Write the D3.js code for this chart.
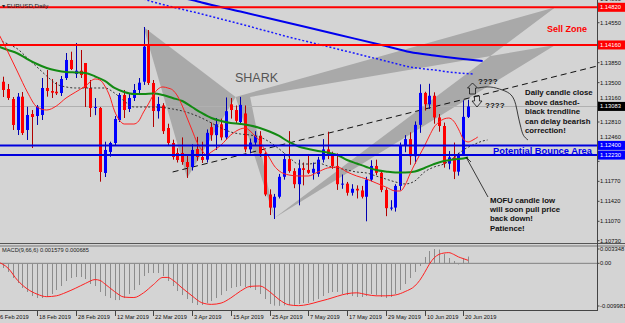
<!DOCTYPE html>
<html><head><meta charset="utf-8">
<script src="https://cdn.jsdelivr.net/npm/d3@7"></script>
<style>
html,body{margin:0;padding:0;background:#d4d4d4;overflow:hidden}
svg{display:block;font-family:"Liberation Sans",Arial,sans-serif}
</style></head><body>
<svg id="c" width="625" height="323"></svg>
<script>
// ---------- DATA (EURUSD Daily, 6 Feb 2019 .. 21 Jun 2019) ----------
const opens  = [1.14130,1.13516,1.13388,1.13213,1.12670,1.13254,1.12670,1.12950,1.12915,1.12933,
1.13406,1.13353,1.13341,1.13318,1.13581,1.13897,1.13651,1.13709,1.13844,1.13406,
1.13063,1.13056,1.11917,1.12285,1.12442,1.12845,1.13283,1.13038,1.13231,1.13371,
1.13516,1.14142,1.13494,1.13000,1.13100,1.12705,1.12442,1.12267,1.12267,1.12109,
1.12022,1.12337,1.12197,1.12150,1.12720,1.12580,1.12770,1.12540,1.13120,1.13020,
1.12810,1.12960,1.12330,1.12450,1.12570,1.12260,1.11540,1.11310,1.11500,1.11850,
1.12160,1.11950,1.11720,1.12000,1.11970,1.11920,1.11900,1.12150,1.12330,1.12250,
1.12040,1.11720,1.11730,1.11570,1.11640,1.11610,1.11500,1.11800,1.12040,1.11920,
1.11620,1.11300,1.11310,1.11690,1.12400,1.12510,1.12210,1.12760,1.13320,1.13120,
1.13270,1.12890,1.12740,1.12080,1.12190,1.11940,1.12250,1.12900];
const highs  = [1.14247,1.13604,1.13476,1.13248,1.13318,1.13336,1.13078,1.13020,1.13108,1.13581,
1.13721,1.13564,1.13511,1.13616,1.14019,1.14042,1.14195,1.14072,1.13844,1.13546,
1.13230,1.13073,1.12465,1.12465,1.12915,1.13318,1.13371,1.13318,1.13476,1.13581,
1.14475,1.14422,1.13546,1.13250,1.13140,1.12780,1.12500,1.12350,1.12540,1.12230,
1.12420,1.12550,1.12465,1.12680,1.12800,1.12880,1.12870,1.13240,1.13230,1.13100,
1.13250,1.13100,1.12520,1.12650,1.12650,1.12280,1.11630,1.11550,1.11900,1.12260,
1.12650,1.12000,1.12150,1.12100,1.12250,1.12100,1.12200,1.12510,1.12640,1.12290,
1.12260,1.11890,1.11760,1.11720,1.11700,1.11690,1.11850,1.12140,1.12150,1.11960,
1.11650,1.11440,1.11720,1.12450,1.12580,1.12630,1.12820,1.13470,1.13340,1.13480,
1.13330,1.12950,1.12800,1.12300,1.12450,1.12270,1.13190,1.13200];
const lows   = [1.13581,1.13248,1.13196,1.12670,1.12582,1.12582,1.12495,1.12355,1.12758,1.12845,
1.13254,1.13231,1.13283,1.13266,1.13546,1.13721,1.13581,1.13581,1.13073,1.12898,
1.12930,1.11764,1.11846,1.12202,1.12407,1.12810,1.12880,1.12985,1.13178,1.13283,
1.13459,1.13459,1.12723,1.12870,1.12600,1.12400,1.12150,1.12100,1.12060,1.11830,
1.11960,1.12130,1.12092,1.12100,1.12480,1.12320,1.12490,1.12500,1.12870,1.12780,
1.12790,1.12280,1.12260,1.12400,1.12200,1.11510,1.11180,1.11110,1.11470,1.11800,
1.11920,1.11650,1.11350,1.11700,1.11900,1.11800,1.11850,1.12100,1.12160,1.11990,
1.11620,1.11640,1.11520,1.11520,1.11470,1.11470,1.11070,1.11770,1.11880,1.11580,
1.11160,1.11260,1.11240,1.11610,1.12280,1.12060,1.12080,1.12620,1.13010,1.13040,
1.12780,1.12640,1.12010,1.11980,1.11810,1.11870,1.12250,1.12880];
const closes = [1.13634,1.13371,1.13231,1.12758,1.13254,1.12617,1.12933,1.12898,1.13078,1.13406,
1.13353,1.13324,1.13313,1.13564,1.13897,1.13739,1.13709,1.13634,1.13406,1.13056,
1.13073,1.11934,1.12320,1.12442,1.12863,1.13283,1.13020,1.13231,1.13371,1.13499,
1.14130,1.13494,1.13003,1.13126,1.12650,1.12442,1.12197,1.12144,1.12109,1.12022,
1.12320,1.12197,1.12144,1.12620,1.12580,1.12770,1.12540,1.13000,1.13020,1.12830,
1.13110,1.12330,1.12450,1.12570,1.12260,1.11540,1.11310,1.11500,1.11850,1.12160,
1.11950,1.11720,1.12000,1.11970,1.11920,1.11990,1.12150,1.12330,1.12250,1.12040,
1.11720,1.11730,1.11570,1.11640,1.11610,1.11500,1.11800,1.12040,1.11920,1.11620,
1.11300,1.11310,1.11690,1.12400,1.12510,1.12210,1.12760,1.13320,1.13120,1.13270,
1.12890,1.12740,1.12080,1.12190,1.11940,1.12250,1.12900,1.13083];

// moving averages: [bar index, price]
const redMA = [[0,1.14370],[2,1.14037],[4,1.13686],[6,1.13336],[8,1.13073],[10,1.13020],[12,1.13091],[14,1.13231],
[16,1.13336],[18,1.13441],[20,1.13564],[21,1.13546],[22,1.13441],[23,1.13266],[24,1.13003],[25,1.12845],[26,1.12775],
[28,1.12775],[29,1.12828],[30,1.12985],[31,1.13126],[32,1.13283],[33,1.13389],[34,1.13424],[35,1.13406],[36,1.13371],
[37,1.13266],[38,1.13091],[39,1.12880],[40,1.12670],[41,1.12460],[42,1.12320],[43,1.12232],[44,1.12285],[46,1.12407],
[48,1.12582],[50,1.12688],[51,1.12705],[52,1.12652],[53,1.12565],[54,1.12477],[55,1.12320],[56,1.12180],[57,1.12039],
[58,1.11952],[60,1.11882],[62,1.11864],[64,1.11864],[66,1.11934],[68,1.12004],[70,1.12022],[72,1.11934],[74,1.11864],
[76,1.11811],[78,1.11741],[80,1.11671],[82,1.11601],[83,1.11601],[84,1.11706],[85,1.11899],[86,1.12074],[87,1.12232],
[88,1.12390],[89,1.12565],[90,1.12723],[91,1.12810],[92,1.12863],[93,1.12880],[94,1.12828],[95,1.12688],[96,1.12512],
[97,1.12460],[98,1.12495],[99,1.12547]];
const greenMA = [[0,1.14133],[2,1.14072],[4,1.14011],[6,1.13914],[8,1.13827],[10,1.13756],[12,1.13713],[14,1.13686],
[16,1.13678],[18,1.13669],[20,1.13608],[22,1.13529],[24,1.13406],[26,1.13336],[28,1.13301],[30,1.13301],[32,1.13310],
[34,1.13283],[36,1.13231],[38,1.13178],[40,1.13073],[42,1.12968],[44,1.12880],[46,1.12828],[48,1.12793],[50,1.12775],
[52,1.12749],[54,1.12705],[56,1.12644],[58,1.12565],[60,1.12460],[62,1.12381],[64,1.12337],[66,1.12302],[68,1.12276],
[70,1.12232],[72,1.12144],[74,1.12083],[76,1.12022],[78,1.11969],[80,1.11943],[82,1.11925],[84,1.11925],[86,1.11943],
[88,1.12004],[90,1.12074],[92,1.12127],[94,1.12153],[96,1.12171],[97,1.12188]];
const dottedMA = [[0,1.14247],[2,1.14177],[4,1.14089],[6,1.13932],[8,1.13774],[10,1.13616],[12,1.13476],[14,1.13424],
[16,1.13406],[18,1.13406],[20,1.13406],[22,1.13406],[24,1.13318],[26,1.13178],[28,1.13073],[30,1.13073],[32,1.13073],
[34,1.13064],[36,1.13038],[38,1.13003],[40,1.12950],[42,1.12880],[44,1.12793],[46,1.12705],[48,1.12635],[50,1.12600],
[52,1.12582],[54,1.12547],[56,1.12460],[58,1.12337],[60,1.12197],[62,1.12074],[64,1.12074],[66,1.12092],[68,1.12039],
[70,1.12004],[72,1.11969],[74,1.11934],[76,1.11917],[78,1.11864],[80,1.11811],[82,1.11759],[84,1.11724],[86,1.11776],
[88,1.11934],[90,1.12022],[92,1.12074],[94,1.12180],[96,1.12320],[98,1.12407],[100,1.12477],[101,1.12495]];
const blueMA = [[38,1.14983],[40,1.14948],[42,1.14904],[50,1.14747],[60,1.14545],[70,1.14343],[80,1.14142],[85,1.14037],
[90,1.13975],[95,1.13923],[100,1.13879]];
const blueDotMA = [[30,1.14966],[32,1.14913],[36,1.14825],[42,1.14703],[50,1.14527],[60,1.14300],[70,1.14089],
[80,1.13879],[85,1.13774],[90,1.13721],[95,1.13669],[98,1.13651]];

// MACD(9,66,6)
const macdMain = [-0.00016,-0.00110,-0.00203,-0.00344,-0.00461,-0.00578,-0.00671,-0.00765,-0.00812,-0.00812,
-0.00788,-0.00718,-0.00624,-0.00531,-0.00414,-0.00344,-0.00320,-0.00320,-0.00367,-0.00484,
-0.00531,-0.00671,-0.00765,-0.00812,-0.00859,-0.00859,-0.00812,-0.00718,-0.00624,-0.00508,
-0.00297,-0.00227,-0.00227,-0.00227,-0.00297,-0.00414,-0.00531,-0.00648,-0.00742,-0.00835,
-0.00929,-0.00975,-0.00975,-0.00929,-0.00882,-0.00812,-0.00742,-0.00648,-0.00578,-0.00554,
-0.00531,-0.00554,-0.00578,-0.00624,-0.00718,-0.00835,-0.00952,-0.00990,-0.00995,-0.00985,
-0.00975,-0.00975,-0.00952,-0.00929,-0.00929,-0.00882,-0.00835,-0.00765,-0.00695,-0.00671,
-0.00671,-0.00718,-0.00742,-0.00765,-0.00788,-0.00788,-0.00765,-0.00718,-0.00742,-0.00788,
-0.00812,-0.00788,-0.00718,-0.00624,-0.00484,-0.00344,-0.00203,-0.00063,0.00147,0.00288,
0.00334,0.00323,0.00217,0.00124,0.00054,-0.00028,0.00124,0.00158];
const macdSignal = [[0,0.0003],[2,-0.0011],[4,-0.0040],[6,-0.0060],[8,-0.0072],[10,-0.0078],[12,-0.0076],[14,-0.0068],
[16,-0.0058],[18,-0.0047],[20,-0.0038],[21,-0.0040],[22,-0.0048],[24,-0.0066],[26,-0.0079],[28,-0.0080],[30,-0.0069],
[32,-0.0050],[34,-0.0033],[35,-0.0033],[36,-0.0039],[38,-0.0058],[40,-0.0076],[42,-0.0092],[44,-0.0096],[46,-0.0093],
[48,-0.0081],[50,-0.0065],[52,-0.0054],[54,-0.0053],[56,-0.0066],[58,-0.0085],[60,-0.0097],[62,-0.0099],[64,-0.0096],
[66,-0.0090],[68,-0.0084],[70,-0.0077],[72,-0.0071],[74,-0.0069],[76,-0.0073],[78,-0.0076],[80,-0.0076],[82,-0.0074],
[84,-0.0066],[86,-0.0053],[87,-0.0040],[88,-0.0022],[89,-0.0002],[90,0.0013],[91,0.0021],[92,0.0024],[93,0.0025],
[94,0.0021],[95,0.0015],[96,0.0011],[97,0.0007]];

// levels & drawings
const sellZone = [1.14820, 1.14160];
const bounceArea = [1.12400, 1.12230];
const lastPrice = 1.13083;
const trendline = [[36,1.11934],[90,1.13078]];
const sharkXAB = [[30,1.14475],[39,1.11830],[49,1.13250]];
const sharkBCD1 = [[49,1.13250],[57,1.11128],[115,1.14820]];
const sharkBCD2 = [[52,1.13250],[57,1.11128],[115,1.14160]];

const priceTicks = [1.14890,1.14550,1.13850,1.13500,1.13160,1.12810,1.12460,1.12120,1.11770,1.11420,1.11070,1.10730];
const dateTickIdx = [0,8,16,24,32,40,48,56,64,72,80,88,96];
const dateTickLbl = ["6 Feb 2019","18 Feb 2019","28 Feb 2019","12 Mar 2019","22 Mar 2019","3 Apr 2019","15 Apr 2019",
"25 Apr 2019","7 May 2019","17 May 2019","29 May 2019","10 Jun 2019","20 Jun 2019"];
const macdTicks = [0.003348, 0, -0.009981];
const macdTickLbl = ["0.003348","0.00","-0.009981"];

// ---------- DRAW ----------
const W = 625, H = 323, PR = 597.5;
const svg = d3.select("#c");
const x = d3.scaleLinear().domain([0, 97]).range([-1.75, 468.12]);
const y = d3.scaleLinear().domain([1.10730, 1.14948]).range([240.7, 0]);
const ym = d3.scaleLinear().domain([-0.009981, 0.003348]).range([306, 249]);

svg.append("rect").attr("width", W).attr("height", H).attr("fill", "#d4d4d4");
const defs = svg.append("defs");
defs.append("clipPath").attr("id","cm").append("rect").attr("x",0).attr("y",0).attr("width",PR).attr("height",243);
defs.append("clipPath").attr("id","cd").append("rect").attr("x",0).attr("y",247).attr("width",PR).attr("height",63);

const main = svg.append("g").attr("clip-path","url(#cm)");
const grey = "#a9a9a9";

// shark pattern
const poly = pts => "M" + pts.map(p => x(p[0]) + "," + y(p[1])).join("L") + "Z";
main.append("path").attr("d", poly(sharkXAB)).attr("fill", grey);
main.append("path").attr("d", poly(sharkBCD1) + poly(sharkBCD2)).attr("fill", grey).attr("fill-rule","evenodd");

// last price line
main.append("line").attr("x1",0).attr("x2",PR).attr("y1",Math.round(y(lastPrice))+0.5).attr("y2",Math.round(y(lastPrice))+0.5)
  .attr("stroke","#b0b0b0").attr("stroke-width",1);

// trendline (ray)
const tSlope = (trendline[1][1]-trendline[0][1])/(trendline[1][0]-trendline[0][0]);
const tEnd = x.invert(PR);
main.append("line").attr("x1", x(trendline[0][0])).attr("y1", y(trendline[0][1]))
  .attr("x2", PR).attr("y2", y(trendline[0][1] + tSlope*(tEnd-trendline[0][0])))
  .attr("stroke","#111").attr("stroke-width",1).attr("stroke-dasharray","6,4");

// candles
const cg = main.append("g");
closes.forEach((c, i) => {
  const o = opens[i], up = c >= o;
  const cx = Math.round(x(i));
  cg.append("line").attr("x1",cx+0.5).attr("x2",cx+0.5).attr("y1",y(highs[i])).attr("y2",y(lows[i]))
    .attr("stroke", up ? "#0000b0" : "#b00000").attr("stroke-width",1);
  const top = y(Math.max(o,c)), bot = y(Math.min(o,c));
  cg.append("rect").attr("x",cx-1).attr("y",top).attr("width",3).attr("height",Math.max(1,bot-top))
    .attr("fill", up ? "#0000ff" : "#ff0000");
});

// moving averages
const ln = d3.line().x(d => x(d[0])).y(d => y(d[1])).curve(d3.curveMonotoneX);
main.append("path").attr("d", ln(dottedMA)).attr("fill","none").attr("stroke","#333").attr("stroke-width",1).attr("stroke-dasharray","2,2");
main.append("path").attr("d", ln(greenMA)).attr("fill","none").attr("stroke","#138a13").attr("stroke-width",2);
main.append("path").attr("d", ln(redMA)).attr("fill","none").attr("stroke","#ff2020").attr("stroke-width",1);
main.append("path").attr("d", ln(blueDotMA)).attr("fill","none").attr("stroke","#1a1aff").attr("stroke-width",1.5).attr("stroke-dasharray","2,2");
main.append("path").attr("d", ln(blueMA)).attr("fill","none").attr("stroke","#0000ee").attr("stroke-width",2);

// horizontal levels
sellZone.forEach(v => main.append("line").attr("x1",0).attr("x2",PR).attr("y1",y(v)).attr("y2",y(v)).attr("stroke","#ff0000").attr("stroke-width",2));
bounceArea.forEach(v => main.append("line").attr("x1",0).attr("x2",PR).attr("y1",y(v)).attr("y2",y(v)).attr("stroke","#0000dd").attr("stroke-width",2));

// annotations
main.append("text").attr("x",235).attr("y",82).attr("font-size",12.5).attr("fill","#555").text("SHARK");
main.append("text").attr("x",547).attr("y",32).attr("font-size",9).attr("font-weight","bold").attr("fill","#ff0000").text("Sell Zone");
main.append("text").attr("x",478).attr("y",84).attr("font-size",8).attr("font-weight","bold").attr("fill","#111").text("????");
main.append("text").attr("x",485).attr("y",108).attr("font-size",8).attr("font-weight","bold").attr("fill","#111").text("????");
["Daily candle close","above dashed-","black trendline","can delay bearish","correction!"].forEach((t,k) =>
  main.append("text").attr("x",525).attr("y",95+k*9.5).attr("font-size",7.8).attr("font-weight","bold").attr("fill","#111").text(t));
main.append("text").attr("x",493).attr("y",153.5).attr("font-size",9.3).attr("font-weight","bold").attr("fill","#0000ee").text("Potential Bounce Area");
["MOFU candle low","will soon pull price","back down!","Patience!"].forEach((t,k) =>
  main.append("text").attr("x",490).attr("y",203+k*9.2).attr("font-size",7.8).attr("font-weight","bold").attr("fill","#111").text(t));
const curve = d3.line().curve(d3.curveBasis);
main.append("path").attr("d", curve([[478,88],[490,86],[503,90],[512,94],[516,104],[518,116],[521,128],[523,136],[528,140]]))
  .attr("fill","none").attr("stroke","#111").attr("stroke-width",0.8);
main.append("path").attr("d","M472.5,83L477.5,88L475.5,88L475.5,94L469.5,94L469.5,88L467.5,88Z").attr("fill","none").attr("stroke","#111").attr("stroke-width",0.8);
main.append("path").attr("d","M474.5,96L479.5,96L479.5,101L482,101L477,107L472,101L474.5,101Z").attr("fill","none").attr("stroke","#111").attr("stroke-width",0.8);
main.append("line").attr("x1",488).attr("y1",197).attr("x2",466).attr("y2",157).attr("stroke","#111").attr("stroke-width",0.8);
main.append("line").attr("x1",471).attr("y1",162).attr("x2",466).attr("y2",157).attr("stroke","#111").attr("stroke-width",0.8);

// title
svg.append("text").attr("x",2).attr("y",7.5).attr("font-size",6.2).attr("fill","#222").text("\u25BE EURUSD,Daily");

// MACD panel
const md = svg.append("g").attr("clip-path","url(#cd)");
md.append("line").attr("x1",0).attr("x2",PR).attr("y1",ym(0)).attr("y2",ym(0)).attr("stroke","#808080").attr("stroke-width",1);
macdMain.forEach((v,i) => {
  const cx = Math.round(x(i)) + 0.5;
  md.append("line").attr("x1",cx).attr("x2",cx).attr("y1",ym(0)).attr("y2",ym(v)).attr("stroke","#8c8c8c").attr("stroke-width",1);
});
md.append("path").attr("d", d3.line().x(d=>x(d[0])).y(d=>ym(d[1])).curve(d3.curveMonotoneX)(macdSignal))
  .attr("fill","none").attr("stroke","#ff2020").attr("stroke-width",1);
svg.append("text").attr("x",2).attr("y",252).attr("font-size",5.7).attr("fill","#222")
  .text("MACD(9,66,6) 0.001579 0.000685");

// frames
svg.append("line").attr("x1",0).attr("x2",W).attr("y1",243.5).attr("y2",243.5).attr("stroke","#555").attr("stroke-width",1);
svg.append("line").attr("x1",0).attr("x2",W).attr("y1",246).attr("y2",246).attr("stroke","#777").attr("stroke-width",1.2);
svg.append("line").attr("x1",0).attr("x2",PR).attr("y1",310.5).attr("y2",310.5).attr("stroke","#444").attr("stroke-width",1);
svg.append("line").attr("x1",PR).attr("x2",PR).attr("y1",0).attr("y2",311).attr("stroke","#444").attr("stroke-width",1);

// price axis
const ax = svg.append("g").attr("font-size",5.8).attr("fill","#111");
const boxVals = sellZone.concat([lastPrice], bounceArea);
priceTicks.forEach(v => {
  ax.append("line").attr("x1",PR).attr("x2",PR+2).attr("y1",y(v)).attr("y2",y(v)).attr("stroke","#444");
  let base = y(v) + 2;
  // labels partly hidden behind a level box sit just above that box
  boxVals.forEach(b => { const top = y(b) - 4.5; if (base > top && base - 4.5 < y(b) + 4.5) base = Math.min(base, top - 1.6); });
  ax.append("text").attr("x",600).attr("y",base).text(v.toFixed(5));
});
const box = (v, fill, yy) => {
  ax.append("rect").attr("x",598).attr("y",yy-4.5).attr("width",27).attr("height",9).attr("fill",fill);
  ax.append("text").attr("x",600).attr("y",yy+2).attr("fill","#fff").text(v.toFixed(5));
};
sellZone.forEach(v => box(v, "#ff0000", y(v)));
box(lastPrice, "#000", y(lastPrice));
bounceArea.forEach(v => box(v, "#0000ff", y(v)));

// macd axis
macdTicks.forEach((v,k) => {
  ax.append("line").attr("x1",PR).attr("x2",PR+2).attr("y1",ym(v)).attr("y2",ym(v)).attr("stroke","#444");
  ax.append("text").attr("x",600).attr("y",ym(v)+2).text(macdTickLbl[k]);
});

// date axis
const dx = svg.append("g").attr("font-size",5.7).attr("fill","#111");
dateTickIdx.forEach((idx,k) => {
  const px = Math.round(x(idx)) + 0.5;
  dx.append("line").attr("x1",px).attr("x2",px).attr("y1",311).attr("y2",316).attr("stroke","#444");
  dx.append("text").attr("x",px+1.5).attr("y",318.5).text(dateTickLbl[k]);
});
</script>
</body></html>
